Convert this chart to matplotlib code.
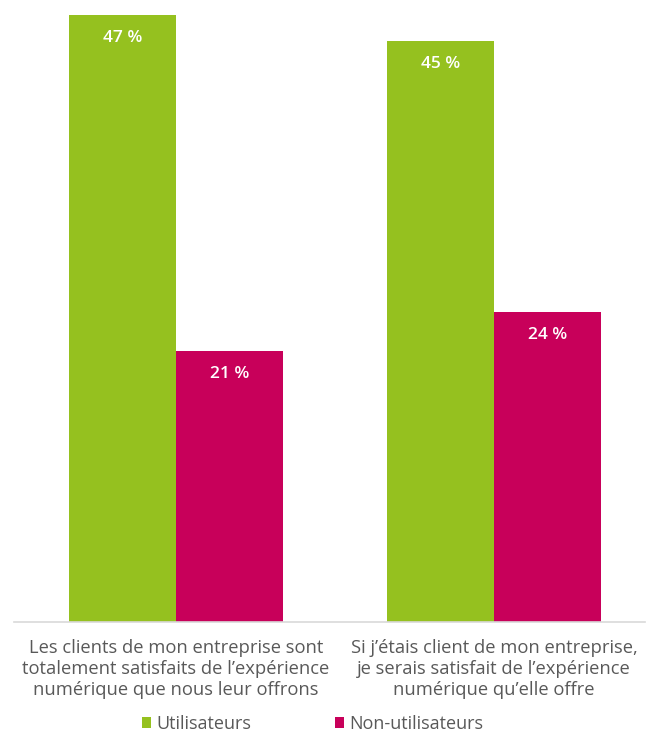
import matplotlib
matplotlib.use("Agg")
import matplotlib.pyplot as plt
import numpy as np

categories = ["Les clients de mon entreprise sont\ntotalement satisfaits de l\u2019exp\u00e9rience\nnum\u00e9rique que nous leur offrons",
              "Si j\u2019\u00e9tais client de mon entreprise,\nje serais satisfait de l\u2019exp\u00e9rience\nnum\u00e9rique qu\u2019elle offre"]
series_names = ["Utilisateurs", "Non-utilisateurs"]
utilisateurs = [47, 45]
non_utilisateurs = [21, 24]
colors = ["#95c11f", "#c8005a"]

plt.rcParams['font.family'] = ['Open Sans', 'DejaVu Sans']

fig = plt.figure(figsize=(6.49, 7.33), dpi=100)
W, H = 649, 733
left_px, right_px, top_px, base_px = 14, 645, 0, 622
ax = fig.add_axes([left_px / W, (H - base_px) / H, (right_px - left_px) / W, (base_px - top_px) / H])

x = np.arange(len(categories))
bw = 0.336
b1 = ax.bar(x - bw / 2, utilisateurs, bw, color=colors[0], label=series_names[0])
b2 = ax.bar(x + bw / 2, non_utilisateurs, bw, color=colors[1], label=series_names[1])

scale = (base_px - 15) / 47.0
ax.set_ylim(0, base_px / scale)
ax.set_xlim(-(176 - left_px) / 318, 1 + (right_px - 494) / 318)

for bars in (b1, b2):
    for r in bars:
        ax.annotate(f"{r.get_height():.0f} %", (r.get_x() + r.get_width() / 2, r.get_height()),
                    xytext=(0, -23), textcoords="offset pixels",
                    ha="center", va="center", color="white", fontsize=12.5, fontweight="semibold")

for s in ["top", "right", "left"]:
    ax.spines[s].set_visible(False)
ax.spines["bottom"].set_color("#d9d9d9")
ax.spines["bottom"].set_linewidth(1.2)
ax.set_yticks([])
ax.set_xticks(x)
ax.set_xticklabels(categories, fontsize=13.2, color="#595959", linespacing=1.22)
ax.tick_params(axis="x", length=0, pad=12)

fig.legend(handles=[b1, b2], labels=series_names, loc="center", bbox_to_anchor=(0.482, 1 - 724 / H),
           ncol=2, frameon=False, fontsize=13, labelcolor="#595959", handlelength=0.5, handleheight=0.5,
           columnspacing=4.6, handletextpad=0.3)

fig.savefig("out.png", dpi=100)
